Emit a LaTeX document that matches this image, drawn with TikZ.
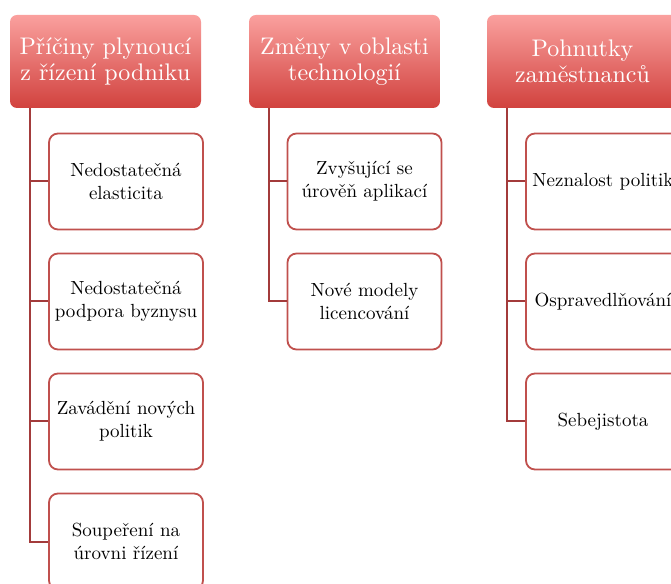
\documentclass[tikz,border=0pt]{standalone}
\usepackage{fontspec}
\setmainfont{lmroman10-regular}[Extension=.otf]
\begin{document}
\definecolor{hdtop}{RGB}{250,160,158}
\definecolor{hdbot}{RGB}{209,66,62}
\definecolor{trunk}{RGB}{163,59,59}
\definecolor{boxline}{RGB}{192,80,77}
\begin{tikzpicture}[x=1pt,y=1pt,
  header/.style={rectangle, rounded corners=7pt, minimum width=191pt, minimum height=93pt,
    top color=hdtop, bottom color=hdbot, text=white, align=center, inner sep=1pt,
    font=\fontsize{24}{25.5}\selectfont},
  child/.style={rectangle, rounded corners=9pt, draw=boxline, line width=1.8pt, fill=white,
    minimum width=154pt, minimum height=96pt, align=center, inner sep=1pt,
    font=\fontsize{19}{23}\selectfont},
  trunkline/.style={draw=trunk, line width=2pt}]
\useasboundingbox (0,0) rectangle (671,583);
\clip (0,0) rectangle (671,583);
% headers
\node[header] (h1) at (105.5,521.5) {Příčiny plynoucí\\z řízení podniku};
\node[header] (h2) at (344.5,521.5) {Změny v oblasti\\technologií};
\node[header] (h3) at (582.5,521.5) {Pohnutky\\zaměstnanců};
% children column 1
\node[child] (c11) at (126,401.5) {Nedostatečná\\elasticita};
\node[child] (c12) at (126,281.5) {Nedostatečná\\podpora byznysu};
\node[child] (c13) at (126,161.5) {Zavádění nových\\politik};
\node[child] (c14) at (126,41.5) {Soupeření na\\úrovni řízení};
% column 2
\node[child] (c21) at (364.5,401.5) {Zvyšující se\\úrověň aplikací};
\node[child] (c22) at (364.5,281.5) {Nové modely\\licencování};
% column 3
\node[child] (c31) at (603,401.5) {Neznalost politik};
\node[child] (c32) at (603,281.5) {Ospravedlňování};
\node[child] (c33) at (603,161.5) {Sebejistota};
% connectors
\foreach \c in {c11,c12,c13,c14}
  \draw[trunkline] ([xshift=20pt]h1.south west) |- (\c.west);
\foreach \c in {c21,c22}
  \draw[trunkline] ([xshift=20pt]h2.south west) |- (\c.west);
\foreach \c in {c31,c32,c33}
  \draw[trunkline] ([xshift=20pt]h3.south west) |- (\c.west);
\end{tikzpicture}
\end{document}
